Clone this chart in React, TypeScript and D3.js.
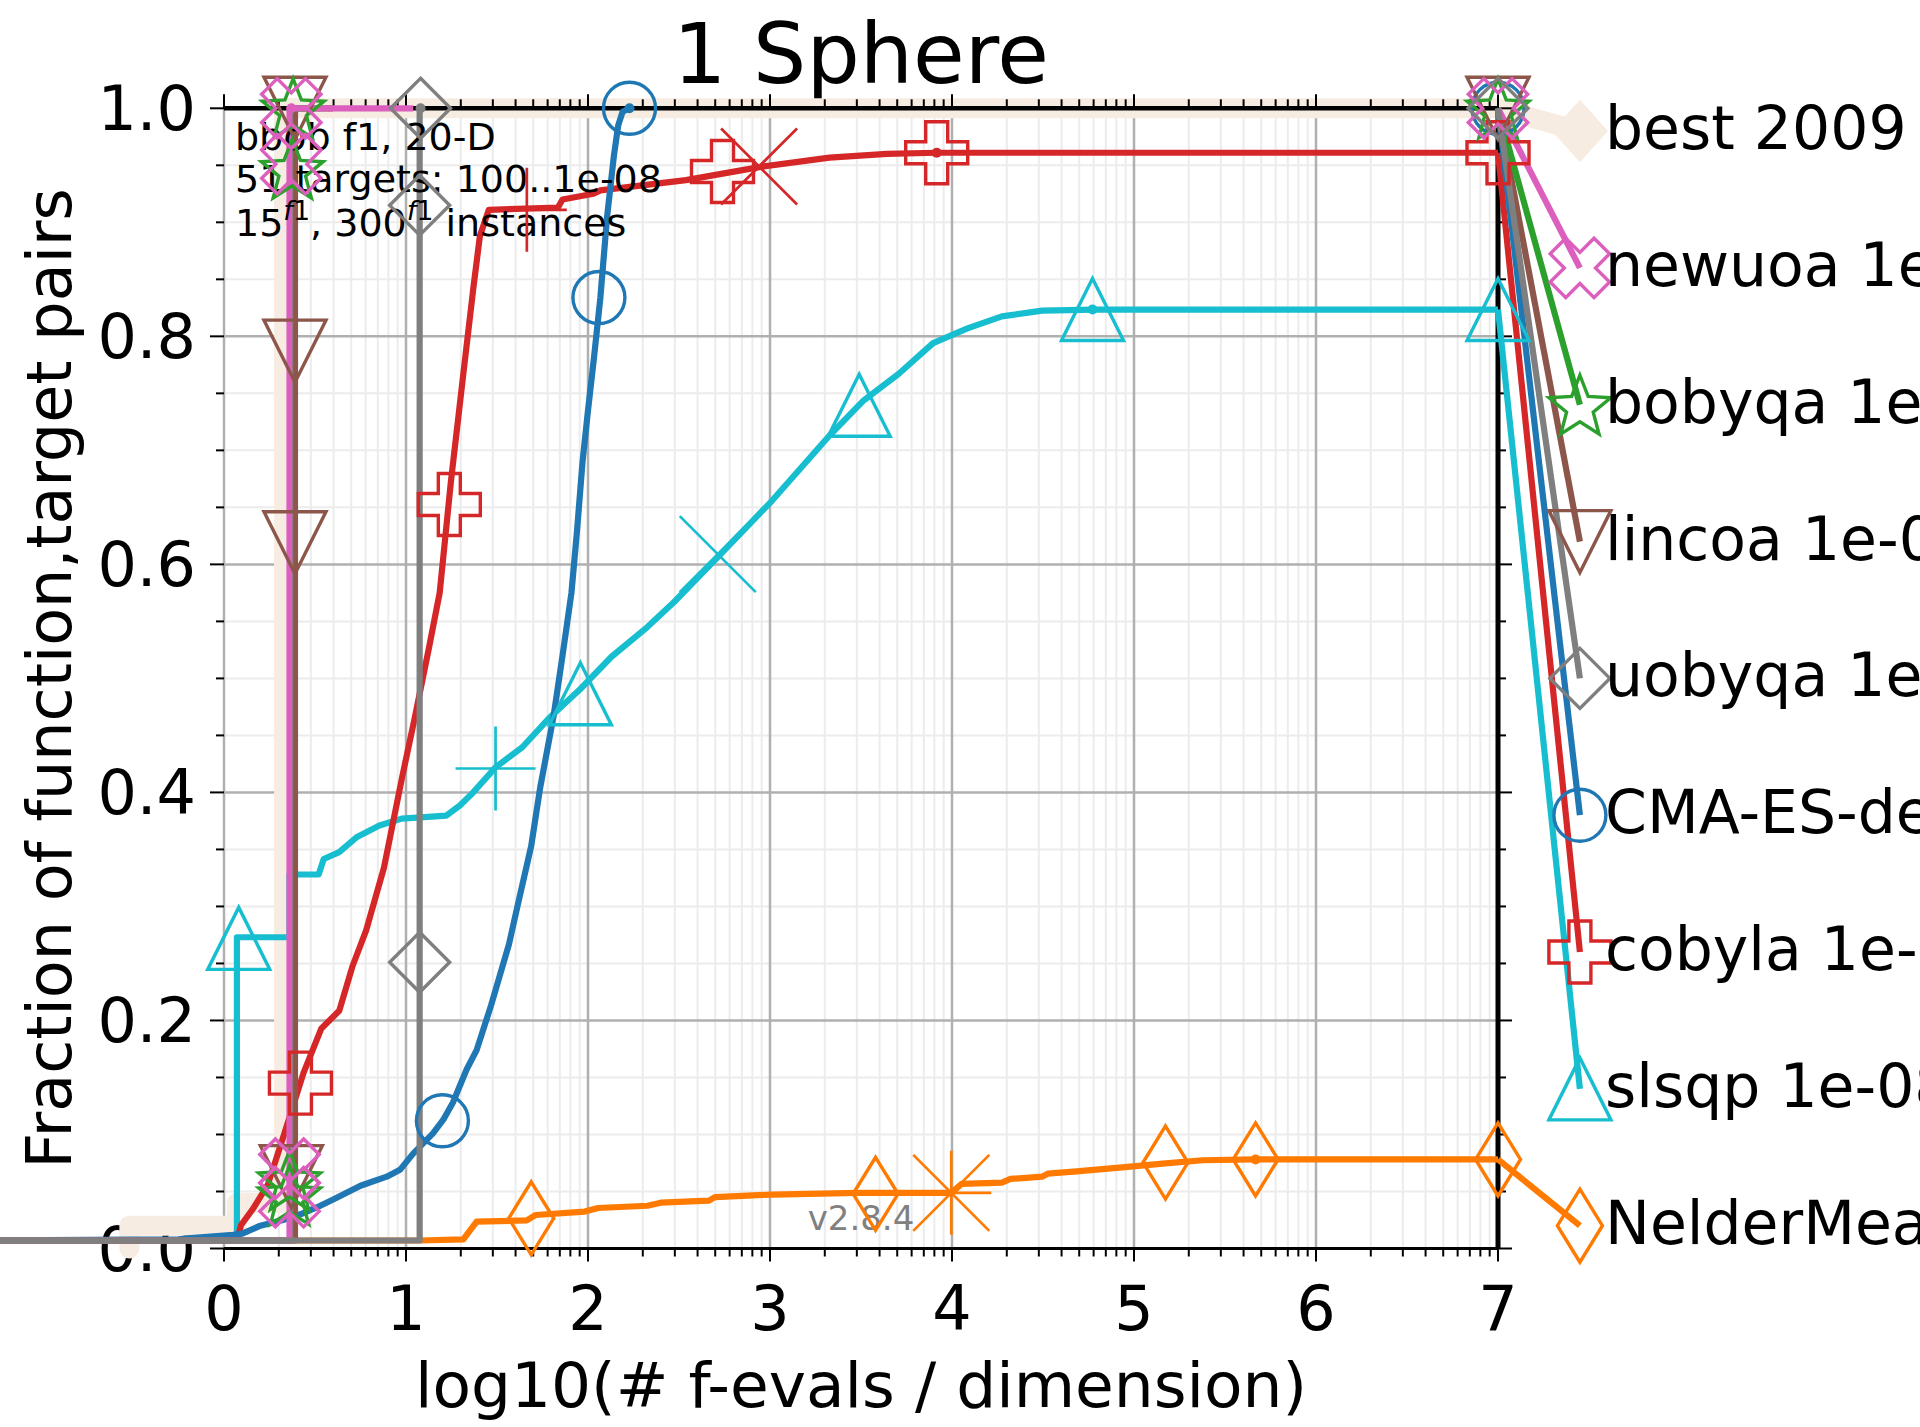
import React from 'react';
import * as d3 from 'd3';

const W = 1920;
const H = 1427;
const FONT = 'DejaVu Sans, Verdana, sans-serif';

// ---------- axis ticks ----------
const xTicks = [0, 1, 2, 3, 4, 5, 6, 7];
const xTickLabels = ['0', '1', '2', '3', '4', '5', '6', '7'];
const yTicks = [0, 0.2, 0.4, 0.6, 0.8, 1.0];
const yTickLabels = ['0.0', '0.2', '0.4', '0.6', '0.8', '1.0'];
const minorDecadeFactors = [2, 3, 4, 5, 6, 7, 8, 9];
const yMinorTicks = [0.05, 0.1, 0.15, 0.25, 0.3, 0.35, 0.45, 0.5, 0.55, 0.65, 0.7, 0.75, 0.85, 0.9, 0.95];

// ---------- legend ----------
const legendLabels = [
  'best 2009', 'newuoa 1e-08', 'bobyqa 1e-08', 'lincoa 1e-08', 'uobyqa 1e-08',
  'CMA-ES-default 1e-08', 'cobyla 1e-08', 'slsqp 1e-08', 'NelderMead 1e-08',
];
const legendY = [0.98, 0.86, 0.74, 0.62, 0.5, 0.38, 0.26, 0.14, 0.02];
const legendX = 7.45;

// ---------- data: [log10(#f-evals/dim), fraction] ----------
const best2009Line = [[-0.52, 0.0], [-0.52, 0.02], [0.07, 0.02], [0.07, 0.04], [0.33, 0.04], [0.33, 1.0], [7, 1.0]];

const newuoaLine = [[-1.3, 0.007], [0.36, 0.007], [0.36, 1.0], [1.04, 1.0]];
const newuoaMarks = [[0.37, 1.0], [0.37, 0.951], [0.36, 0.07], [0.36, 0.045], [7, 1.0]];
const newuoaDots = [[0.37, 1.0]];

const bobyqaLine = [[-1.3, 0.007], [0.365, 0.007], [0.365, 1.0], [0.5, 1.0]];
const bobyqaMarks = [[0.38, 1.0], [0.375, 0.947], [0.36, 0.06], [0.36, 0.047], [7, 1.0]];

const lincoaLine = [[-1.3, 0.007], [0.39, 0.007], [0.39, 1.0], [0.6, 1.0]];
const lincoaMarks = [[0.39, 1.0], [0.39, 0.787], [0.39, 0.619], [0.37, 0.063], [7, 1.0]];

const uobyqaLine = [[-1.3, 0.007], [1.075, 0.007], [1.075, 1.0], [1.1, 1.0]];
const uobyqaMarks = [[1.08, 1.0], [1.075, 0.915], [1.075, 0.251], [7, 1.0]];
const uobyqaDots = [[1.08, 1.0]];

const cmaLine = [
  [-1.3, 0.007], [-0.25, 0.008], [-0.2, 0.009], [0.05, 0.012], [0.1, 0.013], [0.2, 0.02], [0.324, 0.025],
  [0.42, 0.03], [0.509, 0.036], [0.6, 0.043], [0.75, 0.055], [0.894, 0.063], [0.967, 0.069],
  [1.038, 0.083], [1.148, 0.101], [1.205, 0.113], [1.258, 0.128], [1.333, 0.157], [1.388, 0.174],
  [1.467, 0.213], [1.566, 0.267], [1.615, 0.302], [1.688, 0.353], [1.737, 0.404], [1.811, 0.467],
  [1.86, 0.52], [1.909, 0.575], [1.94, 0.63], [1.97, 0.69], [2.0, 0.735], [2.032, 0.78], [2.068, 0.834],
  [2.105, 0.905], [2.142, 0.958], [2.166, 0.985], [2.19, 0.997], [2.228, 1.0],
];
const cmaMarks = [[1.2, 0.112], [2.06, 0.834], [2.228, 1.0], [7, 1.0]];
const cmaDots = [[2.228, 1.0]];

const cobylaLine = [
  [-1.3, 0.007], [0.07, 0.007], [0.094, 0.0206], [0.16, 0.035], [0.241, 0.056], [0.33, 0.1],
  [0.437, 0.154], [0.535, 0.193], [0.633, 0.2085], [0.707, 0.248], [0.781, 0.279], [0.879, 0.334],
  [0.977, 0.412], [1.05, 0.467], [1.124, 0.525], [1.185, 0.575], [1.247, 0.673], [1.32, 0.774],
  [1.369, 0.841], [1.406, 0.888], [1.455, 0.911], [1.835, 0.913], [1.86, 0.92], [2.03, 0.925],
  [2.068, 0.928], [2.538, 0.937], [2.949, 0.9486], [3.327, 0.9567], [3.643, 0.96], [3.916, 0.961],
  [7, 0.961],
];
const cobylaMarks = [[0.42, 0.145], [1.238, 0.6525], [2.739, 0.9446], [3.916, 0.961], [7, 0.961]];
const cobylaPlus = [[1.664, 0.911]];
const cobylaCross = [[2.94, 0.949]];
const cobylaDots = [[3.916, 0.961]];

const slsqpLine = [
  [-1.3, 0.007], [0.071, 0.007], [0.071, 0.273], [0.36, 0.273], [0.36, 0.328], [0.52, 0.328],
  [0.548, 0.3416], [0.633, 0.3477], [0.731, 0.361], [0.854, 0.371], [0.977, 0.377], [1.222, 0.3797],
  [1.296, 0.3886], [1.369, 0.4], [1.492, 0.422], [1.639, 0.4396], [1.785, 0.465], [1.958, 0.4907],
  [2.129, 0.519], [2.326, 0.545], [2.473, 0.567], [2.729, 0.609], [3.012, 0.656], [3.327, 0.713],
  [3.516, 0.744], [3.706, 0.767], [3.896, 0.794], [4.085, 0.807], [4.274, 0.8175], [4.495, 0.8225],
  [4.78, 0.8235], [7, 0.8235],
];
const slsqpMarks = [[0.081, 0.272], [1.958, 0.4865], [3.49, 0.7396], [4.772, 0.8236], [7, 0.8235]];
const slsqpPlus = [[1.492, 0.421]];
const slsqpCross = [[2.713, 0.609]];
const slsqpDots = [[4.772, 0.8236]];

const nelderLine = [
  [-1.3, 0.007], [1.075, 0.007], [1.315, 0.008], [1.388, 0.0235], [1.664, 0.0246], [1.713, 0.0294],
  [1.982, 0.0324], [2.056, 0.0355], [2.326, 0.0375], [2.4, 0.0402], [2.665, 0.042], [2.697, 0.045],
  [3.01, 0.0473], [3.485, 0.0488], [3.996, 0.0488], [4.053, 0.0566], [4.274, 0.0578], [4.321, 0.061],
  [4.495, 0.063], [4.526, 0.0656], [4.684, 0.0676], [4.904, 0.0707], [5.173, 0.0746], [5.378, 0.0774],
  [5.661, 0.0781], [7, 0.0781],
];
const nelderMarks = [[1.688, 0.0265], [3.58, 0.048], [5.173, 0.0754], [5.668, 0.0781], [7, 0.0781]];
const nelderPlus = [[3.996, 0.0488]];
const nelderCross = [[3.996, 0.0488]];
const nelderDots = [[5.668, 0.0781]];

// ---------- styles (drawing order: first is bottom) ----------
const series = [
  { key: 'nelder', line: nelderLine, marks: nelderMarks, plus: nelderPlus, cross: nelderCross, dots: nelderDots, color: '#ff7a00', marker: 'd', legend: 8 },
  { key: 'slsqp', line: slsqpLine, marks: slsqpMarks, plus: slsqpPlus, cross: slsqpCross, dots: slsqpDots, color: '#17becf', marker: '^', legend: 7 },
  { key: 'cobyla', line: cobylaLine, marks: cobylaMarks, plus: cobylaPlus, cross: cobylaCross, dots: cobylaDots, color: '#d62728', marker: 'P', legend: 6 },
  { key: 'cma', line: cmaLine, marks: cmaMarks, plus: [], cross: [], dots: cmaDots, color: '#1f77b4', marker: 'o', legend: 5 },
  { key: 'lincoa', line: lincoaLine, marks: lincoaMarks, plus: [], cross: [], dots: [], color: '#8c564b', marker: 'v', legend: 3 },
  { key: 'bobyqa', line: bobyqaLine, marks: bobyqaMarks, plus: [], cross: [], dots: [], color: '#2ca02c', marker: '*', legend: 2 },
  { key: 'newuoa', line: newuoaLine, marks: newuoaMarks, plus: [], cross: [], dots: newuoaDots, color: '#dc5fbe', marker: 'X', legend: 1 },
  { key: 'uobyqa', line: uobyqaLine, marks: uobyqaMarks, plus: [], cross: [], dots: uobyqaDots, color: '#7f7f7f', marker: 'D', legend: 4 },
];
const PALE = '#f7ece2';

const sx = d3.scaleLinear().domain([0, 7]).range([224, 1498]);
const sy = d3.scaleLinear().domain([0, 1]).range([1248.5, 108.3]);
const lineGen = d3.line<number[]>().x((d) => sx(d[0])).y((d) => sy(d[1]));

function poly(pts: number[][]) {
  return 'M' + pts.map((p) => `${p[0].toFixed(2)},${p[1].toFixed(2)}`).join('L') + 'Z';
}
function plusPts(L: number, w: number) {
  return [[-w, -L], [w, -L], [w, -w], [L, -w], [L, w], [w, w], [w, L], [-w, L], [-w, w], [-L, w], [-L, -w], [-w, -w]];
}
function markerPath(type: string) {
  switch (type) {
    case 'o':
      return 'M26,0A26,26 0 1,1 -26,0A26,26 0 1,1 26,0Z';
    case '^':
      return 'M0,-31L31,31L-31,31Z';
    case 'v':
      return 'M0,31L31,-31L-31,-31Z';
    case 'D':
      return 'M0,-30L30,0L0,30L-30,0Z';
    case 'd':
      return 'M0,-36.5L22.5,0L0,36.5L-22.5,0Z';
    case 'P':
      return poly(plusPts(31, 11));
    case 'X': {
      const c = Math.SQRT1_2;
      return poly(plusPts(31, 11).map(([x, y]) => [c * (x - y), c * (x + y)]));
    }
    case '*': {
      const R = 32.5, r = 14;
      const pts: number[][] = [];
      for (let i = 0; i < 10; i++) {
        const a = -Math.PI / 2 + (i * Math.PI) / 5;
        const rr = i % 2 === 0 ? R : r;
        pts.push([rr * Math.cos(a), rr * Math.sin(a) + 3]);
      }
      return poly(pts);
    }
    default:
      return '';
  }
}

export default function App() {
  const minorX: number[] = [];
  for (let i = 0; i < 7; i++) for (const k of minorDecadeFactors) minorX.push(i + Math.log10(k));

  const x0 = sx(0), x7 = sx(7), yb = sy(0), yt = sy(1);

  return (
    <svg width={W} height={H} viewBox={`0 0 ${W} ${H}`} style={{ position: 'absolute', left: 0, top: 0, background: '#fff' }} fontFamily={FONT}>
      <rect x={0} y={0} width={W} height={H} fill="#fff" />
      {/* minor grid */}
      <g stroke="#ececec" strokeWidth={2}>
        {minorX.map((v, i) => <line key={'mx' + i} x1={sx(v)} x2={sx(v)} y1={yt} y2={yb} />)}
        {yMinorTicks.map((v, i) => <line key={'my' + i} x1={x0} x2={x7} y1={sy(v)} y2={sy(v)} />)}
      </g>
      {/* major grid */}
      <g stroke="#b0b0b0" strokeWidth={2.5}>
        {xTicks.slice(0, 7).map((v) => <line key={'gx' + v} x1={sx(v)} x2={sx(v)} y1={yt} y2={yb} />)}
        {yTicks.slice(1, 5).map((v) => <line key={'gy' + v} x1={x0} x2={x7} y1={sy(v)} y2={sy(v)} />)}
      </g>

      {/* tick labels */}
      <g fontSize={62} fill="#000">
        {yTicks.map((v, i) => (
          <text key={'yl' + i} x={196} y={sy(v) + 22} textAnchor="end">{yTickLabels[i]}</text>
        ))}
        {xTicks.map((v, i) => (
          <text key={'xl' + i} x={sx(v)} y={1330} textAnchor="middle">{xTickLabels[i]}</text>
        ))}
      </g>
      <text x={(x0 + x7) / 2} y={1407} fontSize={63} textAnchor="middle">log10(# f-evals / dimension)</text>
      <text transform={`translate(71,${(yt + yb) / 2}) rotate(-90)`} fontSize={62} textAnchor="middle">Fraction of function,target pairs</text>
      <text x={(x0 + x7) / 2} y={83} fontSize={84} textAnchor="middle">1 Sphere</text>

      {/* best 2009 */}
      <path d={lineGen([...best2009Line, [legendX, legendY[0]]]) || ''} fill="none" stroke={PALE} strokeWidth={20} strokeLinejoin="round" strokeLinecap="round" />
      <path transform={`translate(${sx(legendX)},${sy(legendY[0])})`} d="M0,-29L26,0L0,29L-26,0Z" fill={PALE} stroke={PALE} strokeWidth={3} />

      {/* frame */}
      <g stroke="#000">
        <line x1={x0} x2={x7} y1={yt} y2={yt} strokeWidth={4.5} />
        <line x1={x0} x2={x7} y1={yb} y2={yb} strokeWidth={3} />
        <line x1={x7} x2={x7} y1={yt} y2={yb} strokeWidth={5} />
      </g>
      {/* ticks */}
      <g stroke="#000" strokeWidth={2}>
        {yTicks.map((v) => <line key={'lt' + v} x1={x0 - 14} x2={x0} y1={sy(v)} y2={sy(v)} />)}
        {yMinorTicks.map((v) => <line key={'lmt' + v} x1={x0 - 8} x2={x0} y1={sy(v)} y2={sy(v)} />)}
        {yTicks.map((v) => <line key={'rt' + v} x1={x7} x2={x7 + 14} y1={sy(v)} y2={sy(v)} />)}
        {yMinorTicks.map((v) => <line key={'rmt' + v} x1={x7} x2={x7 + 8} y1={sy(v)} y2={sy(v)} />)}
        {xTicks.map((v) => <line key={'bt' + v} x1={sx(v)} x2={sx(v)} y1={yb} y2={yb + 13} />)}
        {minorX.map((v, i) => <line key={'bmt' + i} x1={sx(v)} x2={sx(v)} y1={yb} y2={yb + 8} />)}
        {xTicks.map((v) => <line key={'tt' + v} x1={sx(v)} x2={sx(v)} y1={yt} y2={yt - 14} />)}
        {minorX.map((v, i) => <line key={'tmt' + i} x1={sx(v)} x2={sx(v)} y1={yt} y2={yt - 9} />)}
      </g>

      {/* series lines */}
      {series.map((s) => {
        const last = s.line[s.line.length - 1];
        return (
          <g key={s.key + 'l'} fill="none" stroke={s.color} strokeWidth={6.2} strokeLinejoin="round">
            <path d={lineGen(s.line) || ''} />
            <path d={lineGen([[7, last[1]], [legendX, legendY[s.legend]]]) || ''} />
          </g>
        );
      })}

      {/* annotations */}
      <g fontSize={38} fill="#000">
        <text x={235} y={150}>bbob f1, 20-D</text>
        <text x={235} y={192}>51 targets: 100..1e-08</text>
        <text x={235} y={236}>
          15<tspan fontSize={27} dy={-16}><tspan fontStyle="italic">f</tspan>1</tspan>
          <tspan dy={16}>, 300</tspan>
          <tspan fontSize={27} dy={-16}><tspan fontStyle="italic">f</tspan>1</tspan>
          <tspan dy={16}> instances</tspan>
        </text>
      </g>
      <text x={(x0 + x7) / 2} y={1230} fontSize={34} fill="#808080" textAnchor="middle">v2.8.4</text>

      {/* markers */}
      {series.map((s) => (
        <g key={s.key + 'm'} fill="none" stroke={s.color} strokeWidth={3.4}>
          {[...s.marks, [legendX, legendY[s.legend]]].map((p, i) => (
            <path key={i} transform={`translate(${sx(p[0])},${sy(p[1])})`} d={markerPath(s.marker)} />
          ))}
          {s.plus.map((p, i) => (
            <path key={'p' + i} strokeWidth={2.7} transform={`translate(${sx(p[0])},${sy(p[1])})`} d="M-40,0L40,0M0,-42L0,42" />
          ))}
          {s.cross.map((p, i) => (
            <path key={'c' + i} strokeWidth={2.7} transform={`translate(${sx(p[0])},${sy(p[1])})`} d="M-38,-38L38,38M-38,38L38,-38" />
          ))}
          {s.dots.map((p, i) => (
            <circle key={'d' + i} cx={sx(p[0])} cy={sy(p[1])} r={5} fill={s.color} stroke="none" />
          ))}
        </g>
      ))}

      {/* legend labels */}
      <g fontSize={60} fill="#000">
        {legendLabels.map((t, i) => (
          <text key={'lg' + i} x={1605} y={sy(legendY[i]) + 18}>{t}</text>
        ))}
      </g>
    </svg>
  );
}
